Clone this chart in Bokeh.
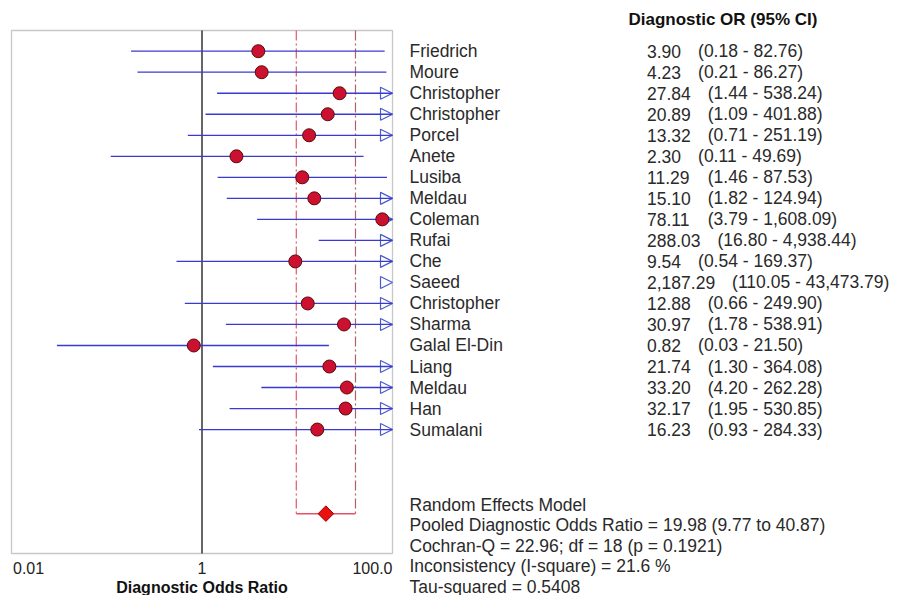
from bokeh.plotting import figure
from bokeh.models import (Range1d, Arrow, NormalHead, ColumnDataSource, LogScale,
                          BoxAnnotation)
from bokeh.core.properties import value
from bokeh.embed import file_html
from bokeh.resources import INLINE
import math

# ---------------- data ----------------
studies = ["Friedrich", "Moure", "Christopher", "Christopher", "Porcel", "Anete", "Lusiba",
           "Meldau", "Coleman", "Rufai", "Che", "Saeed", "Christopher", "Sharma",
           "Galal El-Din", "Liang", "Meldau", "Han", "Sumalani"]
dor = [3.90, 4.23, 27.84, 20.89, 13.32, 2.30, 11.29, 15.10, 78.11, 288.03, 9.54, 2187.29,
       12.88, 30.97, 0.82, 21.74, 33.20, 32.17, 16.23]
ci_low = [0.18, 0.21, 1.44, 1.09, 0.71, 0.11, 1.46, 1.82, 3.79, 16.80, 0.54, 110.05,
          0.66, 1.78, 0.03, 1.30, 4.20, 1.95, 0.93]
ci_high = [82.76, 86.27, 538.24, 401.88, 251.19, 49.69, 87.53, 124.94, 1608.09, 4938.44,
           169.37, 43473.79, 249.90, 538.91, 21.50, 364.08, 262.28, 530.85, 284.33]
dor_text = ["3.90", "4.23", "27.84", "20.89", "13.32", "2.30", "11.29", "15.10", "78.11",
            "288.03", "9.54", "2,187.29", "12.88", "30.97", "0.82", "21.74", "33.20",
            "32.17", "16.23"]
ci_text = ["(0.18 - 82.76)", "(0.21 - 86.27)", "(1.44 - 538.24)", "(1.09 - 401.88)",
           "(0.71 - 251.19)", "(0.11 - 49.69)", "(1.46 - 87.53)", "(1.82 - 124.94)",
           "(3.79 - 1,608.09)", "(16.80 - 4,938.44)", "(0.54 - 169.37)",
           "(110.05 - 43,473.79)", "(0.66 - 249.90)", "(1.78 - 538.91)", "(0.03 - 21.50)",
           "(1.30 - 364.08)", "(4.20 - 262.28)", "(1.95 - 530.85)", "(0.93 - 284.33)"]
pooled_or = 19.98
pooled_low = 9.77
pooled_high = 40.87
stats_lines = ["Random Effects Model",
               "Pooled Diagnostic Odds Ratio = 19.98 (9.77 to 40.87)",
               "Cochran-Q = 22.96; df =  18 (p = 0.1921)",
               "Inconsistency (I-square) = 21.6 %",
               "Tau-squared = 0.5408"]
header = "Diagnostic OR (95% CI)"
axis_title = "Diagnostic Odds Ratio"
tick_values = [0.01, 1, 100]
tick_labels = ["0.01", "1", "100.0"]
x_min, x_max = 0.01, 100

# ---------------- layout constants ----------------
W, H = 909, 595
BOX_L, BOX_R = 11, 392            # pixel edges of the forest box
ROW0_Y, ROW_H = 50.7, 21.02       # pixel centre of first row, row pitch
BOX_TOP, BOX_BOT = 30, 553
FONT = "Liberation Sans"

def row_of(py):
    return (py - ROW0_Y) / ROW_H

n = len(studies)
rows = list(range(n))
pooled_row = n + 3
box_top_r, box_bot_r = row_of(BOX_TOP), row_of(BOX_BOT)

# log range covering the whole canvas so that x_min..x_max spans the box
dec = (BOX_R - BOX_L) / (math.log10(x_max) - math.log10(x_min))
log_lo = 10 ** (math.log10(x_min) - BOX_L / dec)
log_hi = 10 ** (math.log10(x_min) + (W - BOX_L) / dec)

p = figure(width=W, height=H, x_range=Range1d(0, W), y_range=Range1d(row_of(H), row_of(0)),
           output_backend="svg", toolbar_location=None,
           min_border_left=0, min_border_right=0, min_border_top=0, min_border_bottom=0,
           x_axis_location=None, y_axis_location=None,
           extra_x_ranges={"or": Range1d(log_lo, log_hi)},
           extra_x_scales={"or": LogScale()})
p.outline_line_color = None
p.grid.visible = False
p.background_fill_color = "white"

# forest box
p.add_layout(BoxAnnotation(left=x_min, right=x_max, top=box_top_r, bottom=box_bot_r,
                           x_range_name="or", fill_alpha=0, line_color="#444444",
                           line_width=1.3, level="underlay"))

# null line
p.segment(x0=[1], y0=[box_top_r], x1=[1], y1=[box_bot_r], x_range_name="or",
          line_color="#333333", line_width=1.5)

# pooled CI dashed lines and bar
p.segment(x0=[pooled_low, pooled_high], y0=[box_top_r] * 2, x1=[pooled_low, pooled_high],
          y1=[pooled_row] * 2, x_range_name="or", line_color=["#dc5a6a", "#b0606c"],
          line_width=1.2, line_dash="10 3 2 3")
p.segment(x0=[pooled_low], y0=[pooled_row], x1=[pooled_high], y1=[pooled_row],
          x_range_name="or", line_color="#e8506a", line_width=1.5)

# arrows for CIs beyond the axis (drawn under lines/points)
arr_idx = [i for i in rows if ci_high[i] > x_max]
arr_src = ColumnDataSource(dict(xs=[x_min] * len(arr_idx), xe=[x_max] * len(arr_idx),
                                y=[rows[i] for i in arr_idx]))
p.add_layout(Arrow(end=NormalHead(size=12, fill_color="white", line_color="#4a5ad0",
                                  line_width=1.2),
                   x_start="xs", y_start="y", x_end="xe", y_end="y",
                   x_range_name="or", line_alpha=0, source=arr_src, level="underlay"))

# study CIs, clipped to the box (skipped when entirely outside)
seg_idx = [i for i in rows if ci_low[i] < x_max and ci_high[i] > x_min]
src = ColumnDataSource(dict(y=[rows[i] for i in seg_idx],
                            lo=[max(ci_low[i], x_min) for i in seg_idx],
                            hi=[min(ci_high[i], x_max) for i in seg_idx]))
p.segment(x0="lo", y0="y", x1="hi", y1="y", source=src, x_range_name="or",
          line_color="#3a3ad2", line_width=1.3)

# point estimates inside the box
vis = [i for i in rows if x_min <= dor[i] <= x_max]
psrc = ColumnDataSource(dict(x=[dor[i] for i in vis], y=[rows[i] for i in vis]))
p.scatter(x="x", y="y", source=psrc, x_range_name="or", marker="circle", size=13,
          fill_color="#cc1030", line_color="#5a0a0a", line_width=1)

# pooled diamond
p.scatter(x=[pooled_or], y=[pooled_row], x_range_name="or", marker="square",
          angle=0.7853981634, size=11, fill_color="#e81010", line_color="#a00000",
          line_width=1)

# tick labels and axis title
p.text(x=tick_values, y=[row_of(567)] * 3, text=tick_labels, x_range_name="or",
       text_align=["left", "center", "right"], x_offset=[1.5, 0, 0],
       text_baseline="middle", text_font=value(FONT), text_font_size="16px",
       text_color="#222222")
p.text(x=[1], y=[row_of(587)], text=[axis_title], x_range_name="or",
       text_align="center", text_baseline="middle", text_font=value(FONT),
       text_font_size="16px", text_font_style="bold", text_color="#111111")

# ---------------- text panel ----------------
FS = 17.5
name_x = 409
val_x = 646.5

def text_width(s, size):
    w = 0.0
    for ch in s:
        w += 0.278 if ch in ".,' " else 0.556
    return w * size

ci_x = [val_x + text_width(s, FS) + 17 for s in dor_text]

tsrc = ColumnDataSource(dict(y=rows, name=studies, val=dor_text, ci=ci_text, cx=ci_x))
common = dict(text_font=value(FONT), text_font_size=f"{FS}px", text_color="#2a2a2a",
              text_baseline="middle", text_align="left")
p.text(x=name_x, y="y", text="name", source=tsrc, **common)
p.text(x=val_x, y="y", text="val", source=tsrc, **common)
p.text(x="cx", y="y", text="ci", source=tsrc, **common)

p.text(x=[628], y=[row_of(18.5)], text=[header], text_font=value(FONT),
       text_font_size="17px", text_font_style="bold", text_color="#111111",
       text_baseline="middle", text_align="left")

stat_y = [row_of(504 + 20.5 * k) for k in range(len(stats_lines))]
p.text(x=name_x, y=stat_y, text=stats_lines, **common)

open("out.html", "w").write(file_html(p, INLINE))
